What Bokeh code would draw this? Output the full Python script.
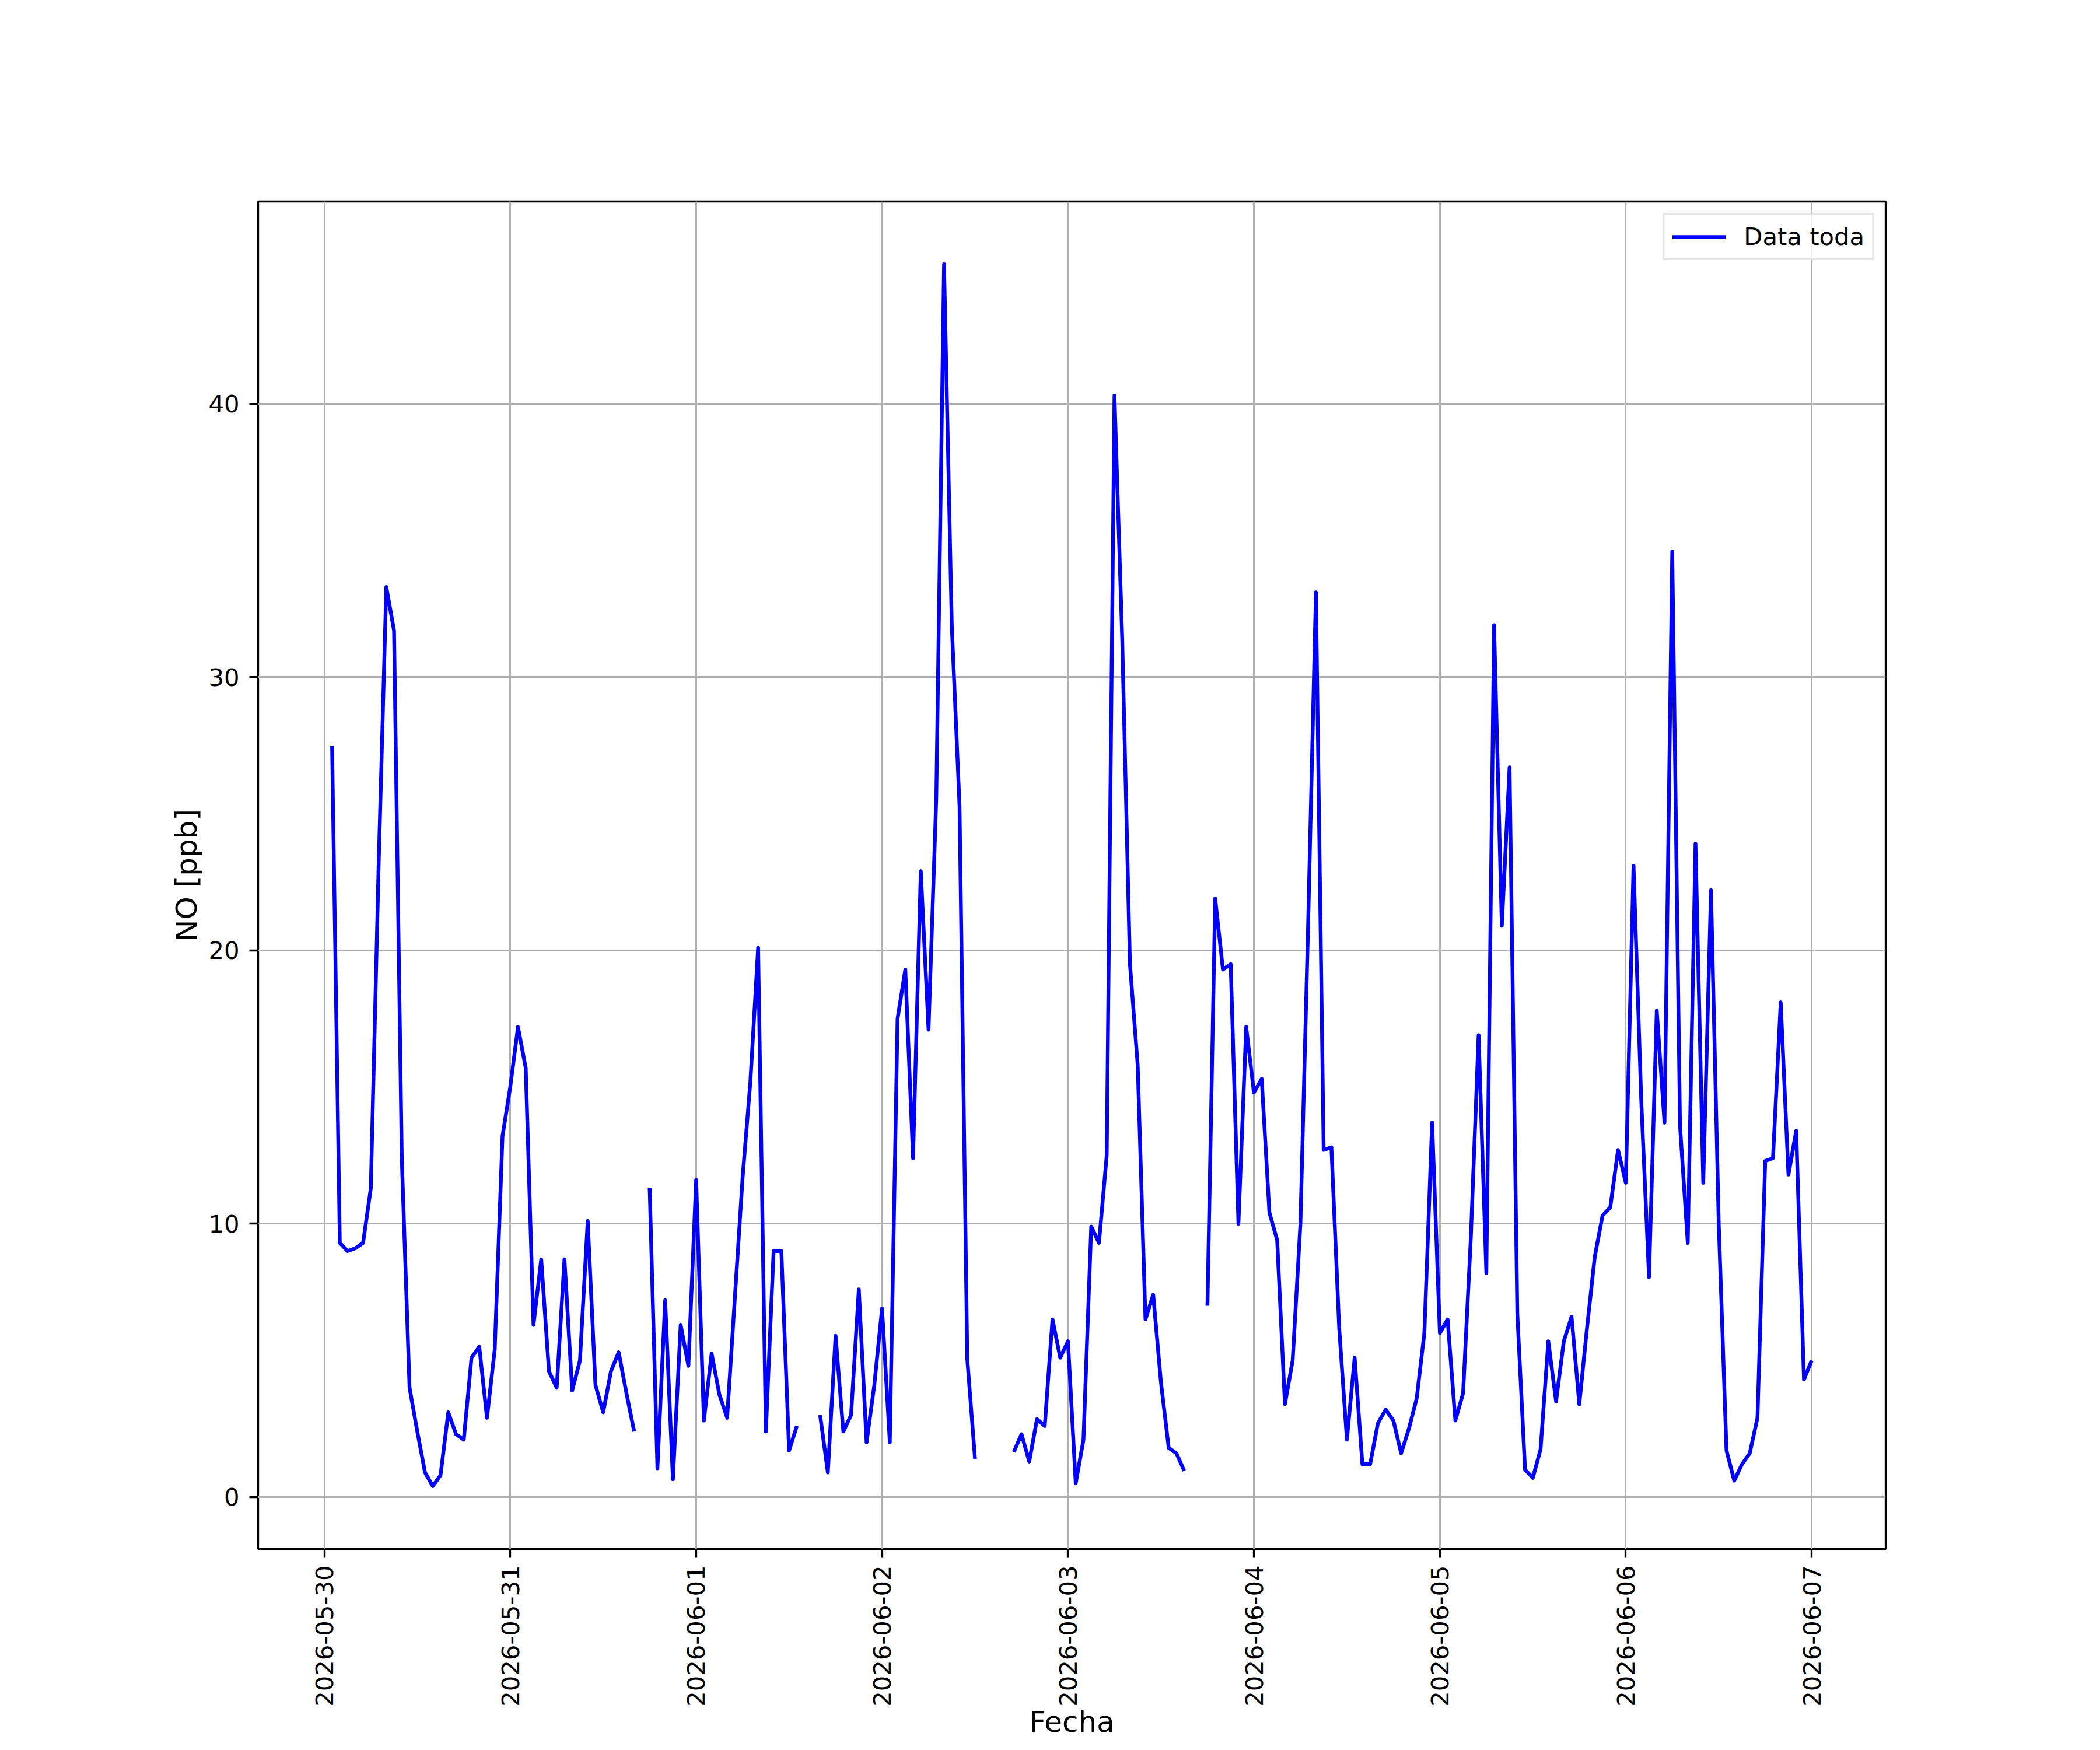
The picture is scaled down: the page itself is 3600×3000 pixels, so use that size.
import numpy as np
import pandas as pd
from bokeh.plotting import figure
from bokeh.models import (ColumnDataSource, Range1d, FixedTicker, SingleIntervalTicker,
                          DatetimeTickFormatter)
from bokeh.embed import file_html
from bokeh.resources import INLINE

nan = np.nan

# Hourly NO [ppb] readings, first value at 2026-05-30 01:00
start_time = "2026-05-30 01:00"
no_0530 = [27.5, 9.3, 9.0, 9.1, 9.3, 11.3, 23.0, 33.3, 31.7, 12.4, 4.0, 2.4,
           0.9, 0.4, 0.8, 3.1, 2.3, 2.1, 5.1, 5.5, 2.9, 5.4, 13.2]            # 01..23 h
no_0531 = [15.0, 17.2, 15.7, 6.3, 8.7, 4.6, 4.0, 8.7, 3.9, 5.0, 10.1, 4.1,
           3.1, 4.6, 5.3, 3.8, 2.4, nan, 11.3, 1.05, 7.2, 0.65, 6.3, 4.8]
no_0601 = [11.6, 2.8, 5.25, 3.75, 2.9, 7.3, 11.7, 15.2, 20.1, 2.4, 9.0, 9.0,
           1.7, 2.6, nan, nan, 3.0, 0.9, 5.9, 2.4, 3.0, 7.6, 2.0, 4.1]
no_0602 = [6.9, 2.0, 17.5, 19.3, 12.4, 22.9, 17.1, 25.6, 45.1, 31.9, 25.3, 5.05,
           1.4, nan, nan, nan, nan, 1.65, 2.3, 1.3, 2.85, 2.6, 6.5, 5.1]
no_0603 = [5.7, 0.5, 2.1, 9.9, 9.3, 12.5, 40.3, 31.4, 19.5, 15.8, 6.5, 7.4,
           4.2, 1.8, 1.6, 0.96, nan, nan, 7.0, 21.9, 19.3, 19.5, 10.0, 17.2]
no_0604 = [14.8, 15.3, 10.4, 9.4, 3.4, 5.0, 10.0, 21.0, 33.1, 12.7, 12.8, 6.2,
           2.1, 5.1, 1.2, 1.2, 2.7, 3.2, 2.8, 1.6, 2.5, 3.6, 6.0, 13.7]
no_0605 = [6.0, 6.5, 2.8, 3.8, 9.5, 16.9, 8.2, 31.9, 20.9, 26.7, 6.7, 1.0,
           0.7, 1.75, 5.7, 3.5, 5.7, 6.6, 3.4, 6.2, 8.8, 10.3, 10.6, 12.7]
no_0606 = [11.5, 23.1, 14.5, 8.05, 17.8, 13.7, 34.6, 13.6, 9.3, 23.9, 11.5, 22.2,
           10.0, 1.7, 0.6, 1.2, 1.6, 2.9, 12.3, 12.4, 18.1, 11.8, 13.4, 4.3]
no_0607 = [5.0]

tick_dates = ["2026-05-30", "2026-05-31", "2026-06-01", "2026-06-02", "2026-06-03",
              "2026-06-04", "2026-06-05", "2026-06-06", "2026-06-07"]
y_tick_step = 10

series_label = "Data toda"
x_label = "Fecha"
y_label = "NO [ppb]"

values = np.array(no_0530 + no_0531 + no_0601 + no_0602 + no_0603 + no_0604 +
                  no_0605 + no_0606 + no_0607, dtype=float)
times = pd.date_range(start_time, periods=len(values), freq="h")
src = ColumnDataSource(dict(t=times, v=values))

span = times[-1] - times[0]
x0 = times[0] - span * 0.05
x1 = times[-1] + span * 0.05
y0, y1 = -1.9, 47.4

W, H = 3584, 2984
BL, BR, BT, BB = 442, 352, 345, 329

FONT = "DejaVu Sans"
TICK_FS = "41.7px"
LABEL_FS = "50px"

p = figure(width=W, height=H, x_axis_type="datetime",
           x_range=Range1d(x0, x1), y_range=Range1d(y0, y1),
           output_backend="svg", toolbar_location=None,
           min_border_left=BL, min_border_right=BR,
           min_border_top=BT, min_border_bottom=BB)
p.background_fill_color = "white"
p.border_fill_color = "white"
p.outline_line_color = "black"
p.outline_line_width = 3.3

p.line("t", "v", source=src, line_color="#0000ff", line_width=6.4,
       line_join="round", legend_label=series_label)

# axes
tick_ms = [pd.Timestamp(d).value / 1e6 for d in tick_dates]
p.xaxis.ticker = FixedTicker(ticks=tick_ms)
fmt = "%Y-%m-%d"
p.xaxis.formatter = DatetimeTickFormatter(microseconds=fmt, milliseconds=fmt, seconds=fmt,
                                          minsec=fmt, minutes=fmt, hourmin=fmt, hours=fmt,
                                          days=fmt, months=fmt, years=fmt)
p.xaxis.major_label_orientation = np.pi / 2
p.yaxis.ticker = SingleIntervalTicker(interval=y_tick_step, num_minor_ticks=0)

for ax in (p.xaxis, p.yaxis):
    ax.axis_line_color = None
    ax.major_tick_in = 0
    ax.major_tick_out = 15
    ax.major_tick_line_width = 3.3
    ax.major_tick_line_color = "black"
    ax.minor_tick_line_color = None
    ax.major_label_text_font = FONT
    ax.major_label_text_font_size = TICK_FS
    ax.major_label_text_color = "black"
    ax.axis_label_text_font = FONT
    ax.axis_label_text_font_size = LABEL_FS
    ax.axis_label_text_font_style = "normal"
    ax.axis_label_text_color = "black"
p.xaxis.major_label_standoff = 13
p.yaxis.major_label_standoff = 17

p.xaxis.axis_label = x_label
p.xaxis.axis_label_standoff = -6
p.yaxis.axis_label = y_label
p.yaxis.axis_label_standoff = 5

for g in (p.xgrid, p.ygrid):
    g.grid_line_color = "#b0b0b0"
    g.grid_line_width = 3
p.xgrid.ticker = p.xaxis.ticker

# legend
lg = p.legend[0]
lg.location = "top_right"
lg.margin = 20
lg.padding = 13
lg.spacing = 0
lg.glyph_width = 92
lg.glyph_height = 48
lg.label_standoff = 31
lg.label_text_font = FONT
lg.label_text_font_size = TICK_FS
lg.label_text_color = "black"
lg.border_line_color = "#cccccc"
lg.border_line_width = 3.3
lg.background_fill_color = "white"
lg.background_fill_alpha = 0.8

open("out.html", "w").write(file_html(p, INLINE))
